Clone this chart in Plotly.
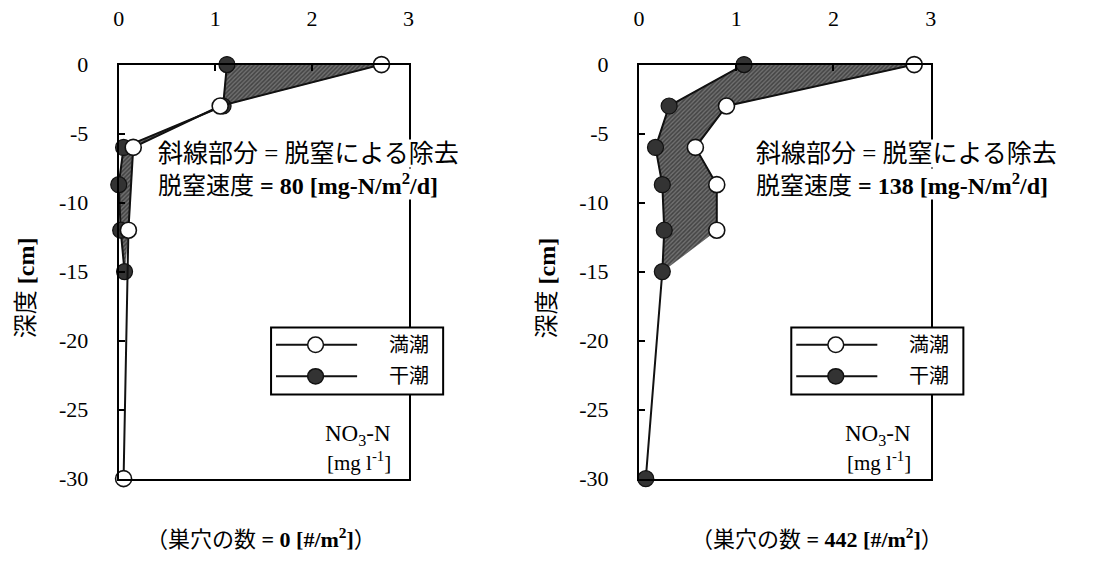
import plotly.graph_objects as go

W, H = 1093, 571

# NO3-N profiles [mg/l] vs depth [cm]
# Left: burrow count 0
depth_high_L = [0, -3, -6, -12, -30]
no3_high_L = [2.72, 1.05, 0.15, 0.10, 0.05]
depth_low_L = [0, -3, -6, -8.7, -12, -15]
no3_low_L = [1.12, 1.08, 0.05, 0.0, 0.02, 0.06]

# Right: burrow count 442
depth_high_R = [0, -3, -6, -8.7, -12]
no3_high_R = [2.83, 0.90, 0.58, 0.80, 0.80]
depth_low_R = [0, -3, -6, -8.7, -12, -15, -30]
no3_low_R = [1.08, 0.31, 0.17, 0.24, 0.26, 0.24, 0.07]

shade_bottom = -15          # shaded (denitrified) zone ends here
rates = ["80", "138"]
burrows = ["0", "442"]
y_ticks = [0, -5, -10, -15, -20, -25, -30]
y_tick_text = ["0", "-5", "-10", "-15", "-20", "-25", "-30"]
x_ticks = [0, 1, 2, 3]
x_tick_text = ["0", "1", "2", "3"]

SERIF = "Liberation Serif, Noto Sans CJK JP"


def px(x):
    return x / W


def py(y):
    return 1 - y / H


panels = [
    dict(xa="x", ya="y", dom=(114, 407), note_x=153, cap_x=258,
         hx=no3_high_L, hy=depth_high_L, lx=no3_low_L, ly=depth_low_L,
         top_open=True),
    dict(xa="x2", ya="y2", dom=(640, 935), note_x=757, cap_x=820,
         hx=no3_high_R, hy=depth_high_R, lx=no3_low_R, ly=depth_low_R,
         top_open=False),
]

fig = go.Figure()

for p in panels:
    # shaded polygon between high-tide and low-tide profiles
    hx = [x for x, d in zip(p["hx"], p["hy"]) if d >= shade_bottom]
    hy = [d for d in p["hy"] if d >= shade_bottom]
    lx = [x for x, d in zip(p["lx"], p["ly"]) if d >= shade_bottom]
    ly = [d for d in p["ly"] if d >= shade_bottom]
    fig.add_trace(go.Scatter(
        x=hx + lx[::-1], y=hy + ly[::-1], xaxis=p["xa"], yaxis=p["ya"],
        mode="lines", fill="toself", line=dict(width=0.5, color="#444"),
        fillcolor="#5e5e5e",
        fillpattern=dict(shape="/", size=3, solidity=0.5,
                         fgcolor="#161616", bgcolor="#707070"),
        showlegend=False, hoverinfo="skip"))

    high = go.Scatter(
        x=p["hx"], y=p["hy"], xaxis=p["xa"], yaxis=p["ya"],
        mode="lines+markers", name="満潮", cliponaxis=False,
        line=dict(color="#111", width=2),
        marker=dict(size=16, color="white", line=dict(color="#111", width=1.6)),
        showlegend=False)
    low = go.Scatter(
        x=p["lx"], y=p["ly"], xaxis=p["xa"], yaxis=p["ya"],
        mode="lines+markers", name="干潮", cliponaxis=False,
        line=dict(color="#111", width=2),
        marker=dict(size=16, color="#333333", line=dict(color="#111", width=1.2)),
        showlegend=False)
    if p["top_open"]:
        fig.add_trace(low)
        fig.add_trace(high)
    else:
        fig.add_trace(high)
        fig.add_trace(low)

axis_common = dict(
    showline=True, mirror=True, linecolor="black", linewidth=2,
    ticks="inside", ticklen=6, tickwidth=1.5, tickcolor="black",
    showgrid=False, zeroline=False,
    tickfont=dict(family=SERIF, size=22, color="black"),
)

y_dom = (py(488), py(55))
for i, p in enumerate(panels):
    sx = "" if i == 0 else "2"
    fig.layout["xaxis" + sx] = dict(
        axis_common, domain=[px(p["dom"][0]), px(p["dom"][1])],
        range=[0, 3], side="top", tickvals=x_ticks, ticktext=x_tick_text,
        ticklabelstandoff=28, anchor="y" + sx)
    fig.layout["yaxis" + sx] = dict(
        axis_common, domain=list(y_dom), range=[-30, 0],
        tickvals=y_ticks, ticktext=y_tick_text, ticklabelstandoff=24,
        anchor="x" + sx)

shapes = []
annotations = []

for i, p in enumerate(panels):
    x0 = p["dom"][0]
    off = x0 - 114
    # legend box
    bx0, bx1 = 268 + off, 442 + off
    shapes.append(dict(type="rect", xref="paper", yref="paper",
                       x0=px(bx0), x1=px(bx1), y0=py(400), y1=py(330),
                       line=dict(color="black", width=2), fillcolor="white",
                       layer="above"))
    for row_y, fill, label in [(348, "white", "満潮"), (381, "#333333", "干潮")]:
        shapes.append(dict(type="line", xref="paper", yref="paper",
                           x0=px(273 + off), x1=px(355 + off),
                           y0=py(row_y), y1=py(row_y),
                           line=dict(color="#111", width=2), layer="above"))
        cx = 313 + off
        shapes.append(dict(type="circle", xref="paper", yref="paper",
                           x0=px(cx - 8), x1=px(cx + 8),
                           y0=py(row_y + 8), y1=py(row_y - 8),
                           fillcolor=fill, line=dict(color="#111", width=1.5),
                           layer="above"))
        annotations.append(dict(xref="paper", yref="paper", x=px(407 + off),
                                y=py(row_y), text=label, showarrow=False,
                                xanchor="center", yanchor="middle",
                                font=dict(family=SERIF, size=20, color="black")))

    # unit label
    annotations.append(dict(xref="paper", yref="paper", x=px(356 + off), y=py(442),
                            text="NO<sub>3</sub>-N", showarrow=False,
                            xanchor="center", yanchor="middle",
                            font=dict(family=SERIF, size=23, color="black")))
    annotations.append(dict(xref="paper", yref="paper", x=px(357 + off), y=py(470),
                            text="[mg l<sup>-1</sup>]", showarrow=False,
                            xanchor="center", yanchor="middle",
                            font=dict(family=SERIF, size=21, color="black")))

    # denitrification notes
    annotations.append(dict(xref="paper", yref="paper", x=px(p["note_x"]), y=py(148),
                            text="斜線部分 = 脱窒による除去", showarrow=False,
                            xanchor="left", yanchor="middle", bgcolor="white",
                            borderpad=0,
                            font=dict(family=SERIF, size=25, color="black")))
    annotations.append(dict(xref="paper", yref="paper", x=px(p["note_x"]), y=py(180),
                            text="脱窒速度 <b>= " + rates[i] +
                                 " [mg-N/m<sup>2</sup>/d]</b>",
                            showarrow=False, xanchor="left", yanchor="middle",
                            bgcolor="white", borderpad=0,
                            font=dict(family=SERIF, size=24, color="black")))

    # y-axis title
    annotations.append(dict(xref="paper", yref="paper", x=px(21 + off), y=py(288),
                            text="深度 <b>[cm]</b>", textangle=-90, showarrow=False,
                            xanchor="center", yanchor="middle",
                            font=dict(family=SERIF, size=24, color="black")))

    # burrow count caption
    annotations.append(dict(xref="paper", yref="paper",
                            x=px(p["cap_x"]), y=py(550),
                            text="（巣穴の数 <b>= " + burrows[i] +
                                 " [#/m<sup>2</sup>]</b>）",
                            showarrow=False, xanchor="center", yanchor="middle",
                            font=dict(family=SERIF, size=22, color="black")))

fig.update_layout(
    width=W, height=H,
    margin=dict(l=0, r=0, t=0, b=0),
    paper_bgcolor="white", plot_bgcolor="white",
    showlegend=False,
    shapes=shapes, annotations=annotations,
)

fig.write_html("out.html")
